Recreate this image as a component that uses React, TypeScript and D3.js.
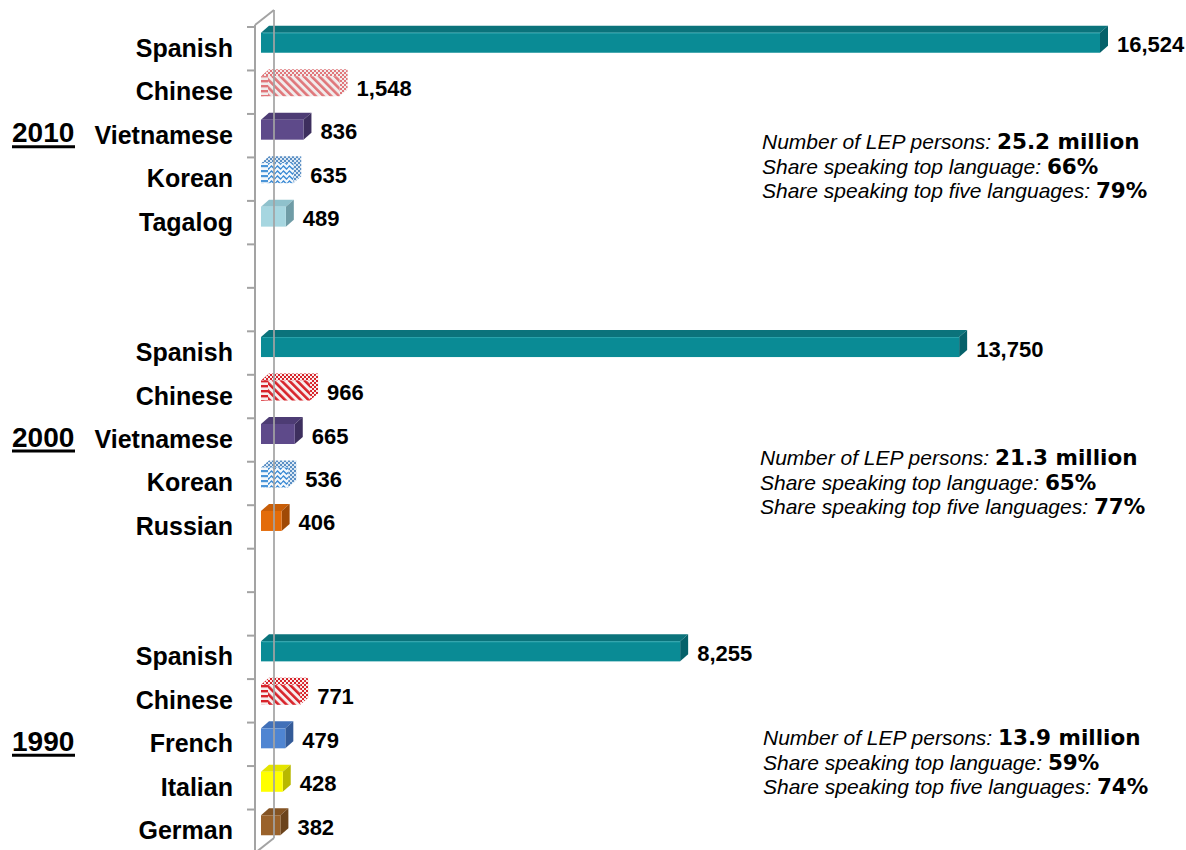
import React from 'react';
import * as d3 from 'd3';

// --- data ---
const years = ['2010', '2000', '1990'];
const languages2010 = ['Spanish', 'Chinese', 'Vietnamese', 'Korean', 'Tagalog'];
const values2010 = [16524, 1548, 836, 635, 489];
const languages2000 = ['Spanish', 'Chinese', 'Vietnamese', 'Korean', 'Russian'];
const values2000 = [13750, 966, 665, 536, 406];
const languages1990 = ['Spanish', 'Chinese', 'French', 'Italian', 'German'];
const values1990 = [8255, 771, 479, 428, 382];
const lepPersons = ['25.2 million', '21.3 million', '13.9 million'];
const shareTopLanguage = ['66%', '65%', '59%'];
const shareTopFive = ['79%', '77%', '74%'];

// --- layout ---
const W = 1186;
const H = 850;
const FONT = '"Liberation Sans", Arial, sans-serif';
const WIDE_BOLD = '"DejaVu Sans", "Liberation Sans", sans-serif';
const PLOT_TOP = 27;
const PLOT_BOTTOM = 853;
const WALL_X = 255;
const WALL_DX = 19;
const WALL_DY = 15;
const BAR_DX = 8;
const BAR_DY = 7;
const noteTop = [141, 457, 737];
const noteX = [762, 760, 763];

type Face = { front: string; top: string; side: string; end?: string };

const solid = (front: string, top: string, side: string): Face => ({ front, top, side });

const faceFor = (lang: string, year: string): Face => {
    switch (lang) {
        case 'Spanish': return solid('#0a8b95', '#0b737b', '#05616a');
        case 'Chinese': return year === '2010'
            ? { front: 'url(#cnPale)', top: 'url(#cnPaleDots)', side: 'url(#cnPaleDots)', end: 'url(#cnPaleH)' }
            : { front: 'url(#cn)', top: 'url(#cnDots)', side: 'url(#cnDots)', end: 'url(#cnH)' };
        case 'Vietnamese': return solid('#5e4a8a', '#4d3c74', '#3d2f5e');
        case 'Korean': return { front: 'url(#ko)', top: 'url(#koDots)', side: 'url(#koDots)', end: 'url(#koH)' };
        case 'Tagalog': return solid('#a6d6e0', '#8fc1cc', '#6f9ca6');
        case 'Russian': return solid('#e36c0a', '#c85e08', '#a04a06');
        case 'French': return solid('#4f85d2', '#4170b8', '#345b98');
        case 'Italian': return solid('#ffff00', '#e4e400', '#b8b800');
        case 'German': return solid('#9a622b', '#845323', '#6b431c');
        default: return solid('#888', '#777', '#666');
    }
};

const groups = [
    { year: years[0], langs: languages2010, vals: values2010 },
    { year: years[1], langs: languages2000, vals: values2000 },
    { year: years[2], langs: languages1990, vals: values1990 },
];

const slotKeys: string[] = [];
groups.forEach((g, gi) => {
    g.langs.forEach(l => slotKeys.push(`${g.year}-${l}`));
    if (gi < groups.length - 1) {
        slotKeys.push(`${g.year}-gap1`);
        slotKeys.push(`${g.year}-gap2`);
    }
});

const y = d3.scaleBand<string>().domain(slotKeys).range([PLOT_TOP, PLOT_BOTTOM]).paddingInner(0);
const x = d3.scaleLinear().domain([0, 18000]).range([261, 261 + 18000 * (839 / 16524)]);
const fmt = d3.format(',');

const Bar: React.FC<{ lang: string; year: string; value: number }> = ({ lang, year, value }) => {
    const c = (y(`${year}-${lang}`) as number) + y.bandwidth() / 2;
    const x0 = x(0);
    const x1 = x(value);
    const y0 = c - 16;
    const y1 = c + 4;
    const f = faceFor(lang, year);
    const top = `${x0},${y0} ${x0 + BAR_DX},${y0 - BAR_DY} ${x1 + BAR_DX},${y0 - BAR_DY} ${x1},${y0}`;
    const side = `${x1},${y0} ${x1 + BAR_DX},${y0 - BAR_DY} ${x1 + BAR_DX},${y1 - BAR_DY} ${x1},${y1}`;
    return (
        <g>
            <polygon points={top} fill={f.top} />
            <polygon points={side} fill={f.side} />
            <rect x={x0} y={y0} width={x1 - x0} height={y1 - y0} fill={f.front} />
            {f.end && <rect x={x0} y={y0} width={7} height={y1 - y0} fill={f.end} />}
            {lang === 'Spanish' && <line x1={x0 + 2} x2={x1} y1={y0 + 0.5} y2={y0 + 0.5} stroke="#2aa3ac" strokeWidth={1} />}
            <text x={x1 + BAR_DX + 9} y={c - 4} dominantBaseline="central" fontFamily={FONT}
                fontWeight="bold" fontSize={22} fill="#000">{fmt(value)}</text>
        </g>
    );
};

const Patterns = () => (
    <defs>
        {[['cn', '#d8232a', '#f7eeee'], ['cnPale', '#e0767a', '#f1ecec']].map(([id, fg, bg]) => (
            <React.Fragment key={id}>
                <pattern id={id} patternUnits="userSpaceOnUse" width={5.5} height={5.5} patternTransform="rotate(-45)">
                    <rect width={5.5} height={5.5} fill={bg} />
                    <rect width={2.6} height={5.5} fill={fg} />
                </pattern>
                <pattern id={`${id}H`} patternUnits="userSpaceOnUse" width={5} height={5}>
                    <rect width={5} height={5} fill={bg} />
                    <rect width={5} height={2.4} fill={fg} />
                </pattern>
                <pattern id={`${id}Dots`} patternUnits="userSpaceOnUse" width={4} height={4}>
                    <rect width={4} height={4} fill={bg} />
                    <rect width={2} height={2} fill={fg} />
                    <rect x={2} y={2} width={2} height={2} fill={fg} />
                </pattern>
            </React.Fragment>
        ))}
        <pattern id="ko" patternUnits="userSpaceOnUse" width={6} height={5}>
            <rect width={6} height={5} fill="#f4f8fc" />
            <path d="M0 2.5 L1.5 1 L3 2.5 L4.5 4 L6 2.5" fill="none" stroke="#3a8ad4" strokeWidth={1.4} />
        </pattern>
        <pattern id="koH" patternUnits="userSpaceOnUse" width={5} height={5}>
            <rect width={5} height={5} fill="#f4f8fc" />
            <rect width={5} height={2.2} fill="#4a95d8" />
        </pattern>
        <pattern id="koDots" patternUnits="userSpaceOnUse" width={4} height={4}>
            <rect width={4} height={4} fill="#dbe8f4" />
            <rect width={2} height={2} fill="#5b8fc4" />
            <rect x={2} y={2} width={2} height={2} fill="#5b8fc4" />
        </pattern>
    </defs>
);

export default function App() {
    const boundaries = slotKeys.map(k => y(k) as number).concat([PLOT_BOTTOM]);
    const wallStroke = '#a3a3a3';

    return (
        <svg width={W} height={H} style={{ position: 'absolute', left: 0, top: 0, background: '#fff' }}>
            <Patterns />

            {/* wall */}
            <line x1={WALL_X} x2={WALL_X} y1={PLOT_TOP - 2} y2={PLOT_BOTTOM} stroke={wallStroke} strokeWidth={2} />
            <line x1={WALL_X} x2={WALL_X + WALL_DX} y1={PLOT_TOP - 2} y2={PLOT_TOP - 2 - WALL_DY} stroke={wallStroke} strokeWidth={2} />
            <line x1={WALL_X} x2={WALL_X + WALL_DX} y1={PLOT_BOTTOM} y2={PLOT_BOTTOM - WALL_DY} stroke={wallStroke} strokeWidth={2} />
            {boundaries.map((b, i) => (
                <line key={i} x1={WALL_X - 8} x2={WALL_X} y1={b} y2={b} stroke={wallStroke} strokeWidth={2} />
            ))}

            {/* bars */}
            {groups.map(g => g.langs.map((l, i) => (
                <Bar key={`${g.year}-${l}`} lang={l} year={g.year} value={g.vals[i]} />
            )))}

            {/* back wall edge shows through */}
            <line x1={WALL_X + WALL_DX} x2={WALL_X + WALL_DX} y1={PLOT_TOP - 2 - WALL_DY} y2={PLOT_BOTTOM - WALL_DY}
                stroke={wallStroke} strokeWidth={2} opacity={0.85} />

            {/* category labels */}
            {groups.map(g => g.langs.map(l => (
                <text key={`lbl-${g.year}-${l}`} x={233} y={(y(`${g.year}-${l}`) as number) + y.bandwidth() / 2 - 1}
                    textAnchor="end" dominantBaseline="central" fontFamily={FONT} fontWeight="bold" fontSize={25}>
                    {l}
                </text>
            )))}

            {/* year labels */}
            {groups.map(g => {
                const cy = (y(`${g.year}-${g.langs[2]}`) as number) + y.bandwidth() / 2 - 3;
                return (
                    <g key={`yr-${g.year}`}>
                        <text x={12} y={cy} dominantBaseline="central" fontFamily={FONT} fontWeight="bold" fontSize={28}>{g.year}</text>
                        <line x1={12} x2={75} y1={cy + 14} y2={cy + 14} stroke="#000" strokeWidth={3} />
                    </g>
                );
            })}

            {/* notes */}
            {groups.map((g, gi) => {
                const lines = [
                    ['Number of LEP persons: ', lepPersons[gi]],
                    ['Share speaking top language: ', shareTopLanguage[gi]],
                    ['Share speaking top five languages: ', shareTopFive[gi]],
                ];
                return lines.map(([a, b], li) => (
                    <text key={`note-${gi}-${li}`} x={noteX[gi]} y={noteTop[gi] + li * 24.7} dominantBaseline="central"
                        fontFamily={FONT} fontSize={21}>
                        <tspan fontStyle="italic">{a}</tspan>
                        <tspan fontWeight="bold" fontFamily={WIDE_BOLD} fontSize={21.5}>{b}</tspan>
                    </text>
                ));
            })}
        </svg>
    );
}
